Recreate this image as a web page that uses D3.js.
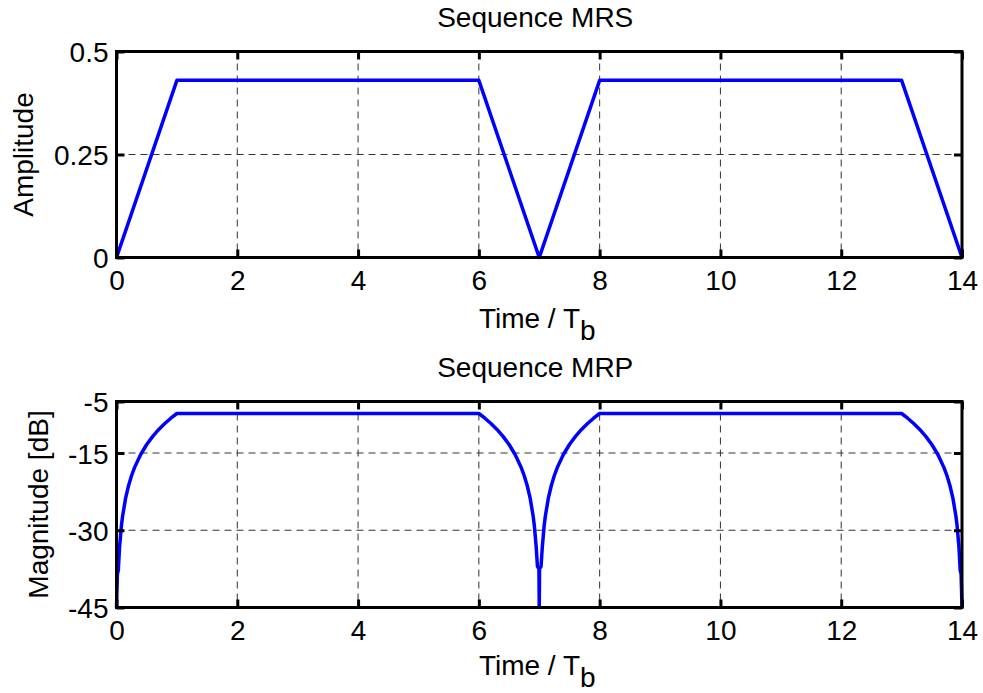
<!DOCTYPE html>
<html>
<head>
<meta charset="utf-8">
<script src="https://cdn.jsdelivr.net/npm/d3@7"></script>
<style>
  html, body { margin: 0; padding: 0; background: #fff; }
  svg { display: block; }
  text { font-family: "Liberation Sans", Arial, Helvetica, sans-serif; fill: #000; }
</style>
</head>
<body>
<svg id="chart" width="983" height="693"></svg>
<script>
// ---- data ----
const timeTicks = [0, 2, 4, 6, 8, 10, 12, 14];
const mrsTicks = [0, 0.25, 0.5];
const mrsTickLabels = ["0", "0.25", "0.5"];
const mrpTicks = [-45, -30, -15, -5];
const mrpTickLabels = ["-45", "-30", "-15", "-5"];

// Sequence MRS (amplitude vs time / Tb)
const mrsTime = [0, 1, 6, 7, 8, 13, 14];
const mrsAmp  = [0, 0.43, 0.43, 0, 0.43, 0.43, 0];

// Sequence MRP (magnitude in dB vs time / Tb), floor at -45 dB
const mrpTime = [
  0, 0.015, 0.03, 0.05, 0.08, 0.1, 0.15, 0.2, 0.25, 0.3, 0.4, 0.5, 0.6, 0.7, 0.8, 0.9, 1.0,
  6.0, 6.1, 6.2, 6.3, 6.4, 6.5, 6.6, 6.7, 6.75, 6.8, 6.85, 6.9, 6.92, 6.95, 6.97, 6.995, 7.0,
  7.005, 7.03, 7.05, 7.08, 7.1, 7.15, 7.2, 7.25, 7.3, 7.4, 7.5, 7.6, 7.7, 7.8, 7.9, 8.0,
  13.0, 13.1, 13.2, 13.3, 13.4, 13.5, 13.6, 13.7, 13.75, 13.8, 13.85, 13.9, 13.92, 13.95, 13.97, 13.985, 14.0
];
const mrpDb = [
  -45, -38.5, -37.79, -33.35, -29.27, -27.33, -23.81, -21.31, -19.37, -17.79, -15.29, -13.35, -11.77, -10.43, -9.27, -8.25, -7.33,
  -7.33, -8.25, -9.27, -10.43, -11.77, -13.35, -15.29, -17.79, -19.37, -21.31, -23.81, -27.33, -29.27, -33.35, -37.0, -37.5, -45,
  -37.5, -37.0, -33.35, -29.27, -27.33, -23.81, -21.31, -19.37, -17.79, -15.29, -13.35, -11.77, -10.43, -9.27, -8.25, -7.33,
  -7.33, -8.25, -9.27, -10.43, -11.77, -13.35, -15.29, -17.79, -19.37, -21.31, -23.81, -27.33, -29.27, -33.35, -37.79, -38.5, -45
];

// ---- drawing ----
const svg = d3.select("#chart");
const FS = 28;

function panel(opts) {
  const { left, right, top, bottom, yDomain, yTicks, yLabels, xs, ys, title, titleY, yLabel, yLabelX, xLabelY } = opts;
  const x = d3.scaleLinear().domain([0, 14]).range([left, right]);
  const y = d3.scaleLinear().domain(yDomain).range([bottom, top]);
  const g = svg.append("g");

  // grid
  g.append("g").selectAll("line.vg")
    .data(timeTicks.filter(t => t > 0 && t < 14))
    .join("line")
    .attr("x1", d => x(d)).attr("x2", d => x(d))
    .attr("y1", top).attr("y2", bottom)
    .attr("stroke", "#333").attr("stroke-width", 1).attr("stroke-dasharray", "7,5");
  g.append("g").selectAll("line.hg")
    .data(yTicks.filter(t => t > yDomain[0] && t < yDomain[1]))
    .join("line")
    .attr("x1", left).attr("x2", right)
    .attr("y1", d => y(d)).attr("y2", d => y(d))
    .attr("stroke", "#333").attr("stroke-width", 1).attr("stroke-dasharray", "7,5");

  // data line
  const pts = xs.map((t, i) => [t, ys[i]]);
  g.append("path")
    .datum(pts)
    .attr("d", d3.line().x(d => x(d[0])).y(d => y(d[1])))
    .attr("fill", "none").attr("stroke", "#0000ff").attr("stroke-width", 3.5)
    .attr("stroke-linejoin", "round");

  // axes (inward ticks, box)
  const tl = 8;
  const axB = d3.axisBottom(x).tickValues(timeTicks).tickSize(-tl).tickFormat(d3.format("d")).tickPadding(0);
  const axT = d3.axisTop(x).tickValues(timeTicks).tickSize(-tl).tickFormat("");
  const axL = d3.axisLeft(y).tickValues(yTicks).tickSize(-tl).tickFormat((d, i) => yLabels[i]).tickPadding(0);
  const axR = d3.axisRight(y).tickValues(yTicks).tickSize(-tl).tickFormat("");

  function style(sel) {
    sel.select(".domain").remove();
    sel.selectAll(".tick line").attr("stroke", "#000").attr("stroke-width", 3);
    sel.selectAll("text").attr("font-size", FS).attr("font-family", null).attr("fill", "#000");
  }
  const gb = g.append("g").attr("transform", `translate(0,${bottom})`).call(axB).call(style);
  gb.selectAll("text").attr("dy", null).attr("y", 32);
  g.append("g").attr("transform", `translate(0,${top})`).call(axT).call(style);
  const gl = g.append("g").attr("transform", `translate(${left},0)`).call(axL).call(style);
  gl.selectAll("text").attr("dy", null).attr("x", -8).attr("y", 10);
  g.append("g").attr("transform", `translate(${right},0)`).call(axR).call(style);

  g.append("rect")
    .attr("x", left).attr("y", top).attr("width", right - left).attr("height", bottom - top)
    .attr("fill", "none").attr("stroke", "#000").attr("stroke-width", 3);

  // title
  g.append("text").attr("x", (left + right) / 2 - 4).attr("y", titleY)
    .attr("text-anchor", "middle").attr("font-size", FS).text(title);

  // y label
  g.append("text")
    .attr("transform", `translate(${yLabelX},${(top + bottom) / 2}) rotate(-90)`)
    .attr("text-anchor", "middle").attr("font-size", FS).text(yLabel);

  // x label with subscript
  const xl = g.append("text").attr("x", (left + right) / 2 - 2).attr("y", xLabelY)
    .attr("text-anchor", "middle").attr("font-size", FS);
  xl.append("tspan").text("Time / T");
  xl.append("tspan").attr("dy", 12).text("b");
}

panel({
  left: 116.5, right: 962, top: 51.5, bottom: 257.5,
  yDomain: [0, 0.5], yTicks: mrsTicks, yLabels: mrsTickLabels,
  xs: mrsTime, ys: mrsAmp,
  title: "Sequence MRS", titleY: 27,
  yLabel: "Amplitude", yLabelX: 33, xLabelY: 328
});

panel({
  left: 116.5, right: 962, top: 401.5, bottom: 607.5,
  yDomain: [-45, -5], yTicks: mrpTicks, yLabels: mrpTickLabels,
  xs: mrpTime, ys: mrpDb,
  title: "Sequence MRP", titleY: 377,
  yLabel: "Magnitude [dB]", yLabelX: 48, xLabelY: 675
});
</script>
</body>
</html>
